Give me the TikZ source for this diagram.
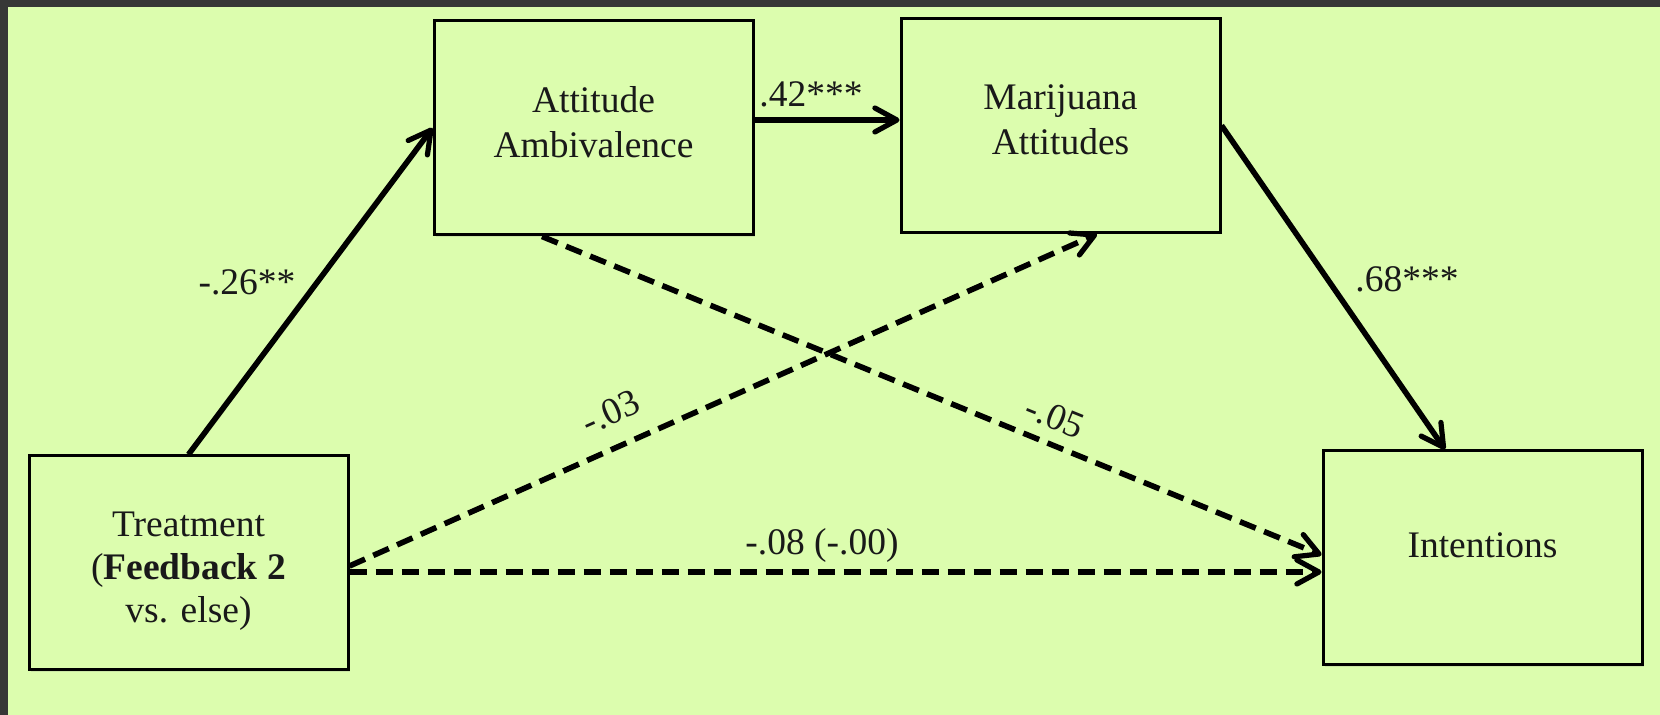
\documentclass[tikz,border=0pt]{standalone}
\usepackage{fontspec}
\setmainfont{Liberation Serif}
\usetikzlibrary{arrows.meta,shadows}
\definecolor{bggreen}{RGB}{220,253,174}
\definecolor{framegray}{RGB}{55,55,55}
\begin{document}
\begin{tikzpicture}[x=0.5pt,y=-0.5pt,
  every node/.style={font=\fontsize{18.75pt}{22.5pt}\selectfont},
  box/.style={draw=black, line width=1.5pt, fill=bggreen,
    minimum width=159.5pt, minimum height=107pt, inner sep=0pt,
    drop shadow={opacity=0.18, shadow xshift=1pt, shadow yshift=-1pt}},
  boxtext/.style={align=center, inner sep=0pt, text=black!90},
  lbl/.style={inner sep=0pt, text=black!90},
  tip/.style={-{Straight Barb[length=11pt, width=12pt, line width=2.6pt, line cap=round, line join=round]}},
  solidarrow/.style={tip, line width=2.8pt},
  dasharrow/.style={tip, line width=2.8pt, dash pattern=on 8.5pt off 4.5pt}
]
\useasboundingbox (0,0) rectangle (1660,715);
\fill[bggreen] (0,0) rectangle (1660,715);
\fill[framegray] (0,0) rectangle (1660,7);
\fill[framegray] (0,0) rectangle (8,715);

\node[box] (AA) at (593.5,128) {};
\node[box] (MA) at (1060.5,125.5) {};
\node[box] (T) at (188.5,563) {};
\node[box] (I) at (1482.5,558) {};

\node[boxtext] (AAt) at (593.5,122) {Attitude\\Ambivalence};
\node[boxtext] (MAt) at (1060.5,120) {Marijuana\\Attitudes};
\node[boxtext, font=\fontsize{18.75pt}{21.5pt}\selectfont] (Tt) at (188.5,571) {Treatment\\(\textbf{Feedback 2}\\vs. else)};
\node[boxtext] (It) at (1482.5,545.5) {Intentions};

\draw[solidarrow] (T.north) -- (AA.west);
\draw[solidarrow] ([yshift=4pt]AA.east) -- ([yshift=4pt]AA.east -| MA.west);
\draw[solidarrow] (MA.east) -- ([xshift=-18.75pt]I.north);
\draw[dasharrow] ([xshift=-25.75pt]AA.south) -- ([yshift=1.5pt]I.west);
\draw[dasharrow] ([yshift=-1.5pt]T.east) -- ([xshift=18.25pt]MA.south);
\draw[dasharrow] ([yshift=-4.5pt]T.east) -- ([yshift=-4.5pt]T.east -| I.west);

\node[lbl] (l1) at (247,282) {-.26**};
\node[lbl] (l2) at (811,94) {.42***};
\node[lbl] (l3) at (1407,279) {.68***};
\node[lbl, rotate=24] (l4) at (611,412) {-.03};
\node[lbl, rotate=-22] (l5) at (1055,417) {-.05};
\node[lbl] (l6) at (822,545) {-.08 (-.00)};
\end{tikzpicture}
\end{document}
